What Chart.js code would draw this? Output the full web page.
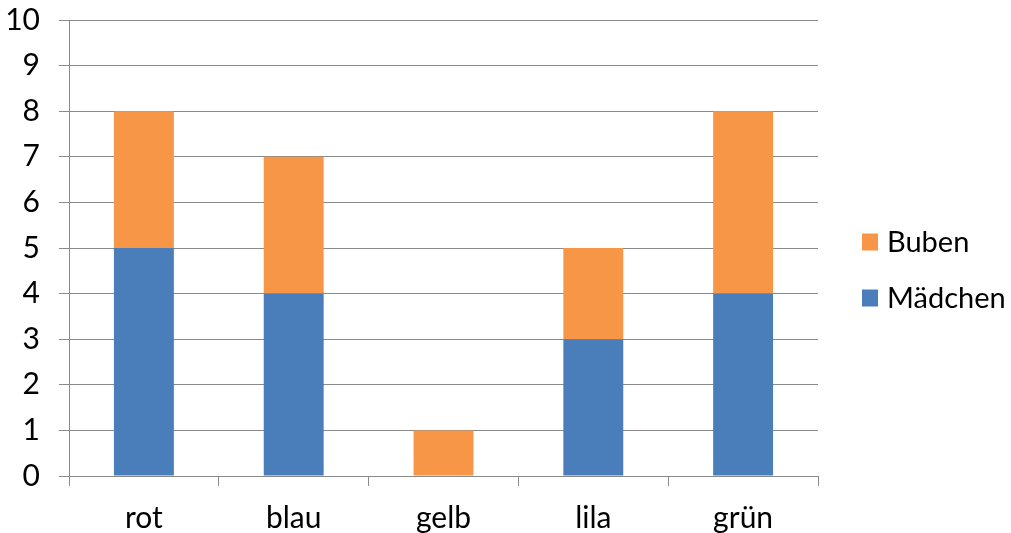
<!DOCTYPE html>
<html>
<head>
<meta charset="utf-8">
<script src="https://cdn.jsdelivr.net/npm/chart.js@4/dist/chart.umd.min.js"></script>
<style>
  body { margin: 0; background: #fff; }
</style>
</head>
<body>
<canvas id="myChart" width="1011" height="533"></canvas>
<script>
// chart values
const categories = ["rot", "blau", "gelb", "lila", "grün"];
const maedchen = [5, 4, 0, 3, 4];
const buben = [3, 3, 1, 2, 4];
const yTicks = [0, 1, 2, 3, 4, 5, 6, 7, 8, 9, 10];

const blue = "#4A7EBB";
const orange = "#F79646";
const gridColor = "#8a8a8a";
const fontName = "Lato, 'Open Sans', sans-serif";

// draws the legend on the right, like the excel one (Buben on top)
const sideLegend = {
  id: "sideLegend",
  afterDraw(chart) {
    const ctx = chart.ctx;
    const area = chart.chartArea;
    const sets = chart.data.datasets.slice().reverse();
    const mid = (area.top + area.bottom) / 2 + 22;
    const step = 56;
    ctx.save();
    ctx.font = "29px " + fontName;
    ctx.textBaseline = "middle";
    ctx.textAlign = "left";
    sets.forEach((ds, i) => {
      const y = mid - step / 2 + i * step;
      const x = area.right + 44;
      ctx.fillStyle = ds.backgroundColor;
      ctx.fillRect(x, y - 8.5, 16, 17);
      ctx.fillStyle = "#000";
      ctx.fillText(ds.label, x + 25, y + 1);
    });
    ctx.restore();
  },
};

const ctx = document.getElementById("myChart").getContext("2d");
const chart = new Chart(ctx, {
  type: "bar",
  data: {
    labels: categories,
    datasets: [
      {
        label: "Mädchen",
        data: maedchen,
        backgroundColor: blue,
        categoryPercentage: 1,
        barPercentage: 0.4,
      },
      {
        label: "Buben",
        data: buben,
        backgroundColor: orange,
        categoryPercentage: 1,
        barPercentage: 0.4,
      },
    ],
  },
  options: {
    responsive: false,
    animation: false,
    layout: {
      padding: { top: 0, right: 193, bottom: 0, left: 0 },
    },
    plugins: {
      legend: { display: false },
      tooltip: { enabled: false },
    },
    scales: {
      x: {
        stacked: true,
        afterFit: (scale) => {
          scale.height = 57;
        },
        grid: {
          display: true,
          drawOnChartArea: false,
          drawTicks: true,
          tickLength: 10,
          color: gridColor,
          offset: true,
        },
        border: { display: true, color: gridColor, width: 1 },
        ticks: {
          color: "#000",
          padding: 14,
          font: { family: fontName, size: 30 },
        },
      },
      y: {
        stacked: true,
        min: 0,
        max: 10,
        afterBuildTicks: (scale) => {
          scale.ticks = yTicks.map((v) => ({ value: v }));
        },
        afterFit: (scale) => {
          scale.width = 69;
          scale.paddingTop = 20;
          scale.paddingBottom = 0;
        },
        grid: {
          color: gridColor,
          tickLength: 10,
        },
        border: { display: true, color: gridColor, width: 1 },
        ticks: {
          color: "#000",
          padding: 19,
          font: { family: fontName, size: 30 },
        },
      },
    },
  },
  plugins: [sideLegend],
});
</script>
</body>
</html>
